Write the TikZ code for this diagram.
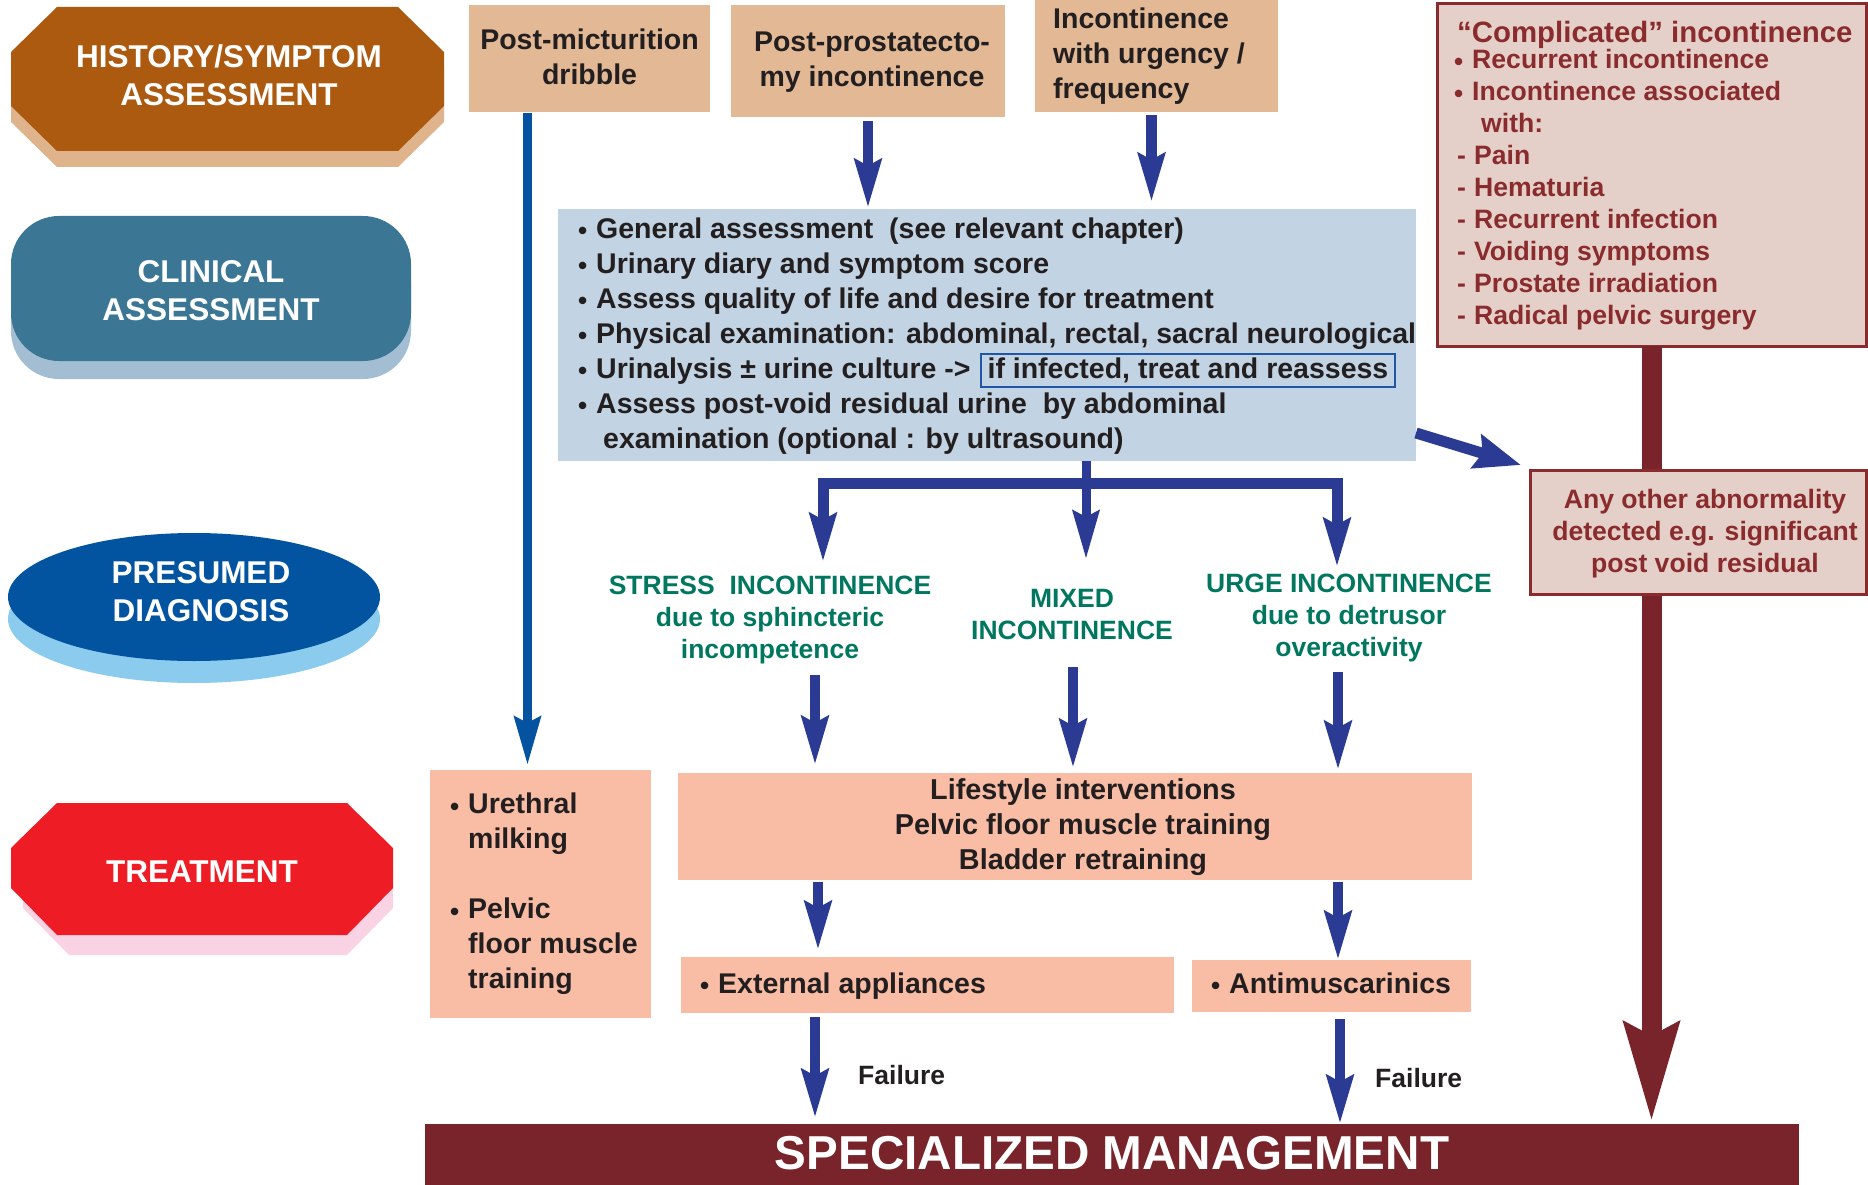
\documentclass[tikz,border=0pt]{standalone}
\usepackage{fontspec}
\setmainfont{Liberation Sans}
\usetikzlibrary{arrows.meta}
\definecolor{histbrown}{HTML}{AD5A11}
\definecolor{histshadow}{HTML}{DFB38C}
\definecolor{clinblue}{HTML}{3B7795}
\definecolor{clinshadow}{HTML}{A3BED2}
\definecolor{diagblue}{HTML}{0254A0}
\definecolor{diagshadow}{HTML}{8ACBEE}
\definecolor{treatred}{HTML}{EE1D25}
\definecolor{treatshadow}{HTML}{F9D3E3}
\definecolor{tanbox}{HTML}{E2B895}
\definecolor{lightblue}{HTML}{C2D4E3}
\definecolor{salmon}{HTML}{F9BDA5}
\definecolor{navy}{HTML}{2B3A92}
\definecolor{pmblue}{HTML}{0452A0}
\definecolor{dgreen}{HTML}{00775E}
\definecolor{maroon}{HTML}{78242A}
\definecolor{maroontext}{HTML}{8A2C2E}
\definecolor{beige}{HTML}{E4D0C8}
\definecolor{frameblue}{HTML}{1F56A5}
\definecolor{textdark}{HTML}{231F20}
\newcommand\fsbody{\fontsize{28.5}{35}\selectfont}
\newcommand\fshead{\fontsize{31.5}{38}\selectfont}
\newcommand\fsdiag{\fontsize{26.5}{32}\selectfont}
\newcommand\fslist{\fontsize{26.6}{32}\selectfont}
\newcommand\fstitle{\fontsize{29.4}{35}\selectfont}
\newcommand\fsbig{\fontsize{47.6}{56}\selectfont}
\newcommand\bul{\makebox[15pt][l]{\hspace*{-3pt}\raisebox{-1.5pt}{\fontsize{26}{26}\selectfont •}}}
\newcommand\dsh{\makebox[17pt][l]{-}}
\tikzset{navyhead/.tip={Stealth[length=48pt,width=26pt,inset=6pt]}}
\begin{document}
\begin{tikzpicture}[x=1pt,y=-1pt,
  boxn/.style={inner sep=0pt, outer sep=0pt},
  txt/.style={inner sep=0pt, font=\fsbody\bfseries, text=textdark},
  head/.style={inner sep=0pt, align=center, font=\fshead\bfseries, text=white},
  diagtxt/.style={inner sep=0pt, align=center, font=\fsdiag\bfseries, text=dgreen},
  mtxt/.style={inner sep=0pt, font=\fslist\bfseries, text=maroontext},
  navyarrow/.style={draw=navy, line width=10.5pt, -{navyhead}},
  pmarrow/.style={draw=pmblue, line width=9pt, -{navyhead}}
]
\useasboundingbox (0,0) rectangle (1868,1185);

% ---- left column labels
\fill[histshadow] (57,23) -- (398,23) -- (444,68) -- (444,122) -- (398,167) -- (57,167) -- (11,122) -- (11,68) -- cycle;
\fill[histbrown] (57,7) -- (398,7) -- (444,52) -- (444,106) -- (398,151) -- (57,151) -- (11,106) -- (11,52) -- cycle;
\node[head] (hist) at (229,75) {HISTORY/SYMPTOM\\ASSESSMENT};

\fill[clinshadow, rounded corners=48pt] (11,234) rectangle (411,379);
\fill[clinblue, rounded corners=48pt] (11,216) rectangle (411,361);
\node[head] (clin) at (211,291) {CLINICAL\\ASSESSMENT};

\fill[diagshadow] (194,619) ellipse [x radius=186pt, y radius=64pt];
\fill[diagblue] (194,597) ellipse [x radius=186pt, y radius=64pt];
\node[head] (diag) at (201,592) {PRESUMED\\DIAGNOSIS};

\fill[treatshadow] (23,868) -- (69,823) -- (347,823) -- (393,868) -- (393,908) -- (347,955) -- (69,955) -- (23,908) -- cycle;
\fill[treatred] (57,803) -- (347,803) -- (393,848) -- (393,888) -- (347,935) -- (57,935) -- (11,888) -- (11,848) -- cycle;
\node[head] (treat) at (202,872) {TREATMENT};

% ---- top boxes
\node[boxn, fill=tanbox, minimum width=241, minimum height=107] (pm) at (589.5,58.5) {};
\node[txt, align=center] (pmt) at (589.5,56.5) {Post-micturition\\dribble};
\node[boxn, fill=tanbox, minimum width=274, minimum height=112] (pp) at (868,61) {};
\node[txt, align=center] (ppt) at (872,62) {Post-prostatecto-\\my incontinence};
\node[boxn, fill=tanbox, minimum width=243, minimum height=112] (iu) at (1156.5,56) {};
\node[txt, align=left, anchor=west] (iut) at (1053,56) {Incontinence\\with urgency /\\frequency};

% ---- clinical assessment box
\node[boxn, fill=lightblue, minimum width=858, minimum height=252] (cb) at (987,335) {};
\node[txt, align=left, anchor=west] (cbt) at (581,336) {%
\bul General assessment\ \ (see relevant chapter)\\
\bul Urinary diary and symptom score\\
\bul Assess quality of life and desire for treatment\\
\bul Physical examination: abdominal, rectal, sacral neurological\\
\bul Urinalysis ± urine culture ->\hspace{9pt}{\setlength\fboxsep{3pt}\setlength\fboxrule{2pt}\fcolorbox{frameblue}{lightblue}{\hspace{3pt}if infected, treat and reassess\hspace{3pt}}}\\
\bul Assess post-void residual urine\ \ by abdominal\\
\hspace*{22pt}examination (optional : by ultrasound)};

% ---- complicated incontinence
\node[boxn, fill=beige, draw=maroontext, line width=3pt, minimum width=429, minimum height=342] (cx) at (1651.5,175) {};
\node[mtxt, font=\fstitle\bfseries, anchor=base west] (cxt) at (1457,42.5) {“Complicated” incontinence};
\node[mtxt, align=left, anchor=west] (cxl) at (1457,190) {%
\bul Recurrent incontinence\\
\bul Incontinence associated\\
\hspace*{24pt}with:\\
\dsh Pain\\
\dsh Hematuria\\
\dsh Recurrent infection\\
\dsh Voiding symptoms\\
\dsh Prostate irradiation\\
\dsh Radical pelvic surgery};

% ---- diagnoses
\node[diagtxt] (si) at (770,620) {STRESS\ \ INCONTINENCE\\due to sphincteric\\incompetence};
\node[diagtxt] (mi) at (1072,614.5) {MIXED\\INCONTINENCE};
\node[diagtxt] (ui) at (1349,618) {URGE INCONTINENCE\\due to detrusor\\overactivity};

% ---- treatment boxes
\node[boxn, fill=salmon, minimum width=221, minimum height=248] (ub) at (540.5,894) {};
\node[txt, align=left, anchor=west] (ubt) at (453,894) {\bul Urethral\\\hspace*{15pt}milking\\[35pt]\bul Pelvic\\\hspace*{15pt}floor muscle\\\hspace*{15pt}training};
\node[boxn, fill=salmon, minimum width=794, minimum height=107] (lb) at (1075,826.5) {};
\node[txt, font=\fontsize{28.8}{35}\selectfont\bfseries, align=center] (lbt) at (1083,827.5) {Lifestyle interventions\\Pelvic floor muscle training\\Bladder retraining};
\node[boxn, fill=salmon, minimum width=493, minimum height=56] (ea) at (927.5,985) {};
\node[txt, anchor=base west] (eat) at (703,993) {\bul External appliances};
\node[boxn, fill=salmon, minimum width=279, minimum height=52] (am) at (1331.5,986) {};
\node[txt, anchor=base west] (amt) at (1214,993) {\bul Antimuscarinics};

% ---- specialized management
\node[boxn, fill=maroon, minimum width=1374, minimum height=66] (sm) at (1112,1157) {};
\node[inner sep=0pt, font=\fsbig\bfseries, text=white, anchor=base] (smt) at (1112,1169) {SPECIALIZED MANAGEMENT};
\node[txt, font=\fsdiag\bfseries, anchor=base west] (f1) at (858,1084.5) {Failure};
\node[txt, font=\fsdiag\bfseries, anchor=base west] (f2) at (1375,1087.5) {Failure};

% ---- coordinates for connector columns
\coordinate (x1) at (815,0);
\coordinate (x2) at (1073,0);
\coordinate (x3) at (1338,0);
\coordinate (x4) at (818,0);
\coordinate (x5) at (1340,0);
\coordinate (bL) at (823,483);
\coordinate (bM) at (1086,483);
\coordinate (bR) at (1337,483);
\coordinate (bLe) at (823,562);
\coordinate (bMe) at (1086,559);
\coordinate (bRe) at (1337,567);

% ---- connectors
\draw[navyarrow, shorten <=4pt, shorten >=1pt] (pp.south) -- (pp.south |- cb.north);
\draw[navyarrow, shorten <=3pt, shorten >=7pt] ([xshift=-5pt]iu.south) -- ([xshift=-5pt]iu.south |- cb.north);
\draw[pmarrow, shorten <=1pt, shorten >=5pt] ([xshift=-62pt]pm.south) -- ([xshift=-62pt]pm.south |- ub.north);

\draw[navyarrow, line width=9pt] (cb.south -| bM) -- (bMe);
\draw[navy, line width=11pt, line join=miter, {navyhead}-{navyhead}] (bLe) -- (bL) -- (bR) -- (bRe);

\draw[navyarrow, shorten <=10.5pt, shorten >=8pt] (si.south -| x1) -- (lb.north -| x1);
\draw[navyarrow, shorten <=27pt, shorten >=5pt] (mi.south -| x2) -- (lb.north -| x2);
\draw[navyarrow, shorten <=9.5pt, shorten >=3pt] (ui.south -| x3) -- (lb.north -| x3);

\draw[navyarrow, shorten <=2pt, shorten >=7pt] (lb.south -| x4) -- (ea.north -| x4);
\draw[navyarrow, shorten <=2pt] (lb.south -| x3) -- (am.north -| x3);
\draw[navyarrow, shorten <=4pt, shorten >=6pt] (ea.south -| x1) -- (sm.north -| x1);
\draw[navyarrow, shorten <=7pt] (am.south -| x5) -- (sm.north -| x5);

\draw[maroon, line width=20pt, -{Stealth[length=98pt,width=53pt,inset=12pt]}, shorten >=2pt] (cx.south) -- (cx.south |- sm.north);

% ---- any other abnormality (over the maroon arrow)
\node[boxn, fill=beige, draw=maroontext, line width=3pt, minimum width=336, minimum height=124] (ao) at (1698,532) {};
\node[mtxt, align=center] (aot) at (1705,534) {Any other abnormality\\detected e.g. significant\\post void residual};

\draw[navy, line width=11pt, -{Stealth[length=46pt,width=34pt,inset=6pt]}] ([shift={(0,98)}]cb.east) -- ([shift={(-9,-5)}]ao.north west);
\end{tikzpicture}
\end{document}
